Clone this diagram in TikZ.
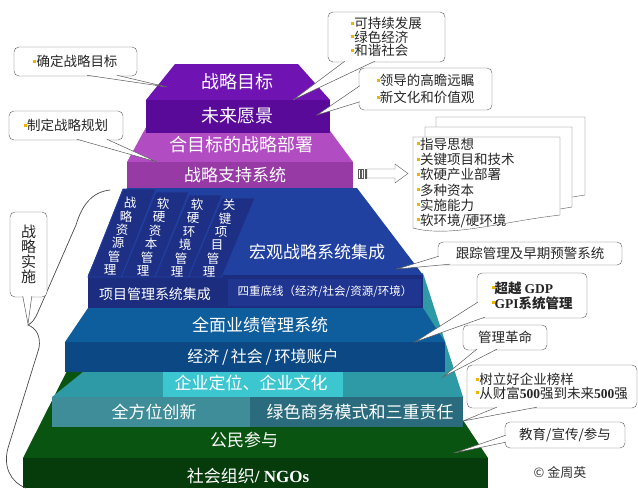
\documentclass[tikz,border=0pt]{standalone}
\usepackage{fontspec}
\setmainfont{Noto Sans CJK SC}
\newfontfamily\lat{Liberation Serif}
\usepackage{tikz}
\usetikzlibrary{calc}
\definecolor{purpletop}{HTML}{6F14B2}
\definecolor{purplefront}{HTML}{5A0A99}
\definecolor{orchidtop}{HTML}{B24CC2}
\definecolor{orchidfront}{HTML}{973AA6}
\definecolor{bluetop}{HTML}{2141A0}
\definecolor{bluefront}{HTML}{1C2D7F}
\definecolor{bluepanel}{HTML}{203590}
\definecolor{bluecol}{HTML}{1E2F86}
\definecolor{steeltop}{HTML}{0E5D9C}
\definecolor{steelfront}{HTML}{0B4884}
\definecolor{tealtop}{HTML}{2E9AA6}
\definecolor{tealhi}{HTML}{3CC6D0}
\definecolor{tealleft}{HTML}{3F8D99}
\definecolor{tealright}{HTML}{2A6B7E}
\definecolor{greentop}{HTML}{0A5412}
\definecolor{greenfront}{HTML}{063B0B}
\definecolor{bulcol}{HTML}{F2B200}
\definecolor{inkgray}{HTML}{5A5A5A}
\newcommand{\bul}{{\color{bulcol}\rule[0.3em]{3pt}{3pt}}}
\newcommand{\calltail}[3]{\fill[white] (#1) -- (#3) -- (#2) -- cycle; \draw[tailline] (#1) -- (#3) -- (#2);}
\tikzset{
  tierlbl/.style={text=white, inner sep=0pt, font=\fontsize{17}{17}\selectfont},
  colchar/.style={text=white, inner sep=0pt, font=\fontsize{12.5}{12.5}\selectfont},
  callbox/.style={draw=inkgray, fill=white, rounded corners=5pt, inner sep=2pt, align=left, text=black!85, font=\fontsize{13.5}{15}\selectfont},
  tailline/.style={draw=inkgray, line width=0.5pt},
}
\begin{document}
\begin{tikzpicture}[x=1pt,y=-1pt]
\useasboundingbox (0,0) rectangle (638,488);
\fill[greentop] (75,355) -- (420,355) -- (488,458) -- (23,458) -- cycle;
\fill[greenfront] (23,458) rectangle (488,488);
\fill[tealtop] (52,397) -- (83,372) -- (120,300) -- (423,273) -- (463,397) -- cycle;
\fill[tealhi] (163,372) rectangle (343,397);
\fill[tealleft] (52,397) rectangle (250,427);
\fill[tealright] (250,397) rectangle (463,427);
\fill[steeltop] (88,308) -- (423,308) -- (445,342) -- (65,342) -- cycle;
\fill[steelfront] (65,342) rectangle (445,372);
\fill[bluetop] (127,188) -- (357,188) -- (423,275) -- (88,275) -- cycle;
\fill[bluefront] (88,275) rectangle (423,308);
\fill[bluepanel] (228,279) rectangle (421,306);
\filldraw[fill=bluecol, draw=bluetop, line width=0.8pt] (88,277) -- (121.5,277) -- (156,189) -- (123,189) -- cycle;
\filldraw[fill=bluecol, draw=bluetop, line width=0.8pt] (121.5,277) -- (155,277) -- (189,192) -- (156,192) -- cycle;
\filldraw[fill=bluecol, draw=bluetop, line width=0.8pt] (155,277) -- (188.5,277) -- (222,195) -- (189,195) -- cycle;
\filldraw[fill=bluecol, draw=bluetop, line width=0.8pt] (188.5,277) -- (222,277) -- (255,198) -- (222,198) -- cycle;
\fill[orchidtop] (150,120) -- (322,120) -- (353,162) -- (127,162) -- cycle;
\fill[orchidfront] (127,162) rectangle (353,188);
\fill[purpletop] (175,64) -- (298,64) -- (330,100) -- (146,100) -- cycle;
\fill[purplefront] (146,100) rectangle (330,133);

\node[tierlbl, font=\fontsize{18}{18}\selectfont] (goal) at (237,82) {战略目标};
\node[tierlbl, font=\fontsize{18}{18}\selectfont] (vision) at (237,116) {未来愿景};
\node[tierlbl, font=\fontsize{18}{18}\selectfont] (deploy) at (241,145) {合目标的战略部署};
\node[tierlbl] (support) at (235,175) {战略支持系统};
\foreach \cx/\cy/\clist [count=\n] in {130/203/{战,略,资,源,管,理}, 163/204/{软,硬,资,本,管,理}, 197/205/{软,硬,环,境,管,理}, 229/205/{关,键,项,目,管,理}}
  \foreach \ch [count=\k from 0] in \clist
    \node[colchar] (col\n-\k) at (\cx-4*\k, \cy+13.4*\k) {\ch};
\node[tierlbl] (macro) at (317,252) {宏观战略系统集成};
\node[tierlbl, font=\fontsize{14}{14}\selectfont] (pmsys) at (155,294) {项目管理系统集成};
\node[tierlbl, font=\fontsize{11.5}{12}\selectfont] (quad) at (325,292) {四重底线（经济/社会/资源/环境）};
\node[tierlbl] (perf) at (260,325) {全面业绩管理系统};
\node[tierlbl, font=\fontsize{16}{16}\selectfont] (acct) at (263,357) {经济\,/\,社会\,/\,环境账户};
\node[tierlbl] (culture) at (251,383) {企业定位、企业文化};
\node[tierlbl] (innov) at (154,412) {全方位创新};
\node[tierlbl] (green) at (360,412) {绿色商务模式和三重责任};
\node[tierlbl] (citizen) at (244,440) {公民参与};
\node[tierlbl] (ngo) at (248,476) {社会组织{\lat\bfseries / NGOs}};

\draw[inkgray!80!black, line width=0.7pt] (110,190) .. controls (92,192) and (82,205) .. (76,225) -- (38,312) .. controls (35,319) and (32,323) .. (28,325) .. controls (36,328) and (41,336) .. (39,348) -- (8,448) .. controls (3,466) and (10,482) .. (26,488);

\coordinate (goaltip) at (167,87);
\coordinate (plantip) at (157,162);
\coordinate (sustaintip) at (293,100);
\coordinate (leadtip) at (317,115);
\coordinate (tracktip) at (397,269);
\coordinate (gdptip) at (415,342);
\coordinate (reformtip) at (443,377);
\coordinate (modeltip) at (463,421);
\coordinate (edutip) at (454,453);
\coordinate (impltip) at (28,324);

\node[callbox, minimum width=123pt, minimum height=29pt] (goalbox) at (75.5,61.5) {\bul{}确定战略目标};
\calltail{$(goalbox.south west)+(73,-1)$}{$(goalbox.south west)+(103,-1)$}{goaltip}
\node[callbox, minimum width=114pt, minimum height=29pt] (planbox) at (66,125.5) {\bul{}制定战略规划};
\calltail{$(planbox.south west)+(68,-1)$}{$(planbox.south west)+(98,-1)$}{plantip}
\node[callbox, minimum width=117pt, minimum height=50pt, font=\fontsize{13.5}{13.5}\selectfont] (sustainbox) at (386.5,37) {\bul{}可持续发展\\\bul{}绿色经济\\\bul{}和谐社会};
\calltail{$(sustainbox.south west)+(17,-1)$}{$(sustainbox.south west)+(47,-1)$}{sustaintip}
\node[callbox, minimum width=133pt, minimum height=42pt, font=\fontsize{13.5}{17}\selectfont] (leadbox) at (425.5,89) {\bul{}领导的高瞻远瞩\\\bul{}新文化和价值观};
\calltail{$(leadbox.north west)+(1,18)$}{$(leadbox.north west)+(1,34)$}{leadtip}
\node[callbox, minimum width=184pt, minimum height=23pt] (trackbox) at (530,253.5) {跟踪管理及早期预警系统};
\calltail{$(trackbox.south west)+(1,-9)$}{$(trackbox.south west)+(12,-1)$}{tracktip}
\node[callbox, minimum width=110pt, minimum height=45pt, font=\fontsize{13.5}{15}\selectfont\bfseries] (gdpbox) at (532,295.5) {\bul{}超越 {\lat GDP}\\\bul{}{\lat GPI}系统管理};
\calltail{$(gdpbox.south west)+(1,-16)$}{$(gdpbox.south west)+(8,-1)$}{gdptip}
\node[callbox, minimum width=84pt, minimum height=25pt] (reformbox) at (505,337.5) {管理革命};
\calltail{$(reformbox.south west)+(14,-1)$}{$(reformbox.south west)+(34,-1)$}{reformtip}
\node[callbox, minimum width=170pt, minimum height=43pt, font=\fontsize{13.5}{13.5}\selectfont] (modelbox) at (552,386.5) {\bul{}树立好企业榜样\\\bul{}从财富{\lat\bfseries 500}强到未来{\lat\bfseries 500}强};
\calltail{$(modelbox.south west)+(30,-1)$}{$(modelbox.south west)+(70,-1)$}{modeltip}
\node[callbox, minimum width=120pt, minimum height=26pt] (edubox) at (565,435) {教育/宣传/参与};
\calltail{$(edubox.south west)+(1,-13)$}{$(edubox.south west)+(1,-6)$}{edutip}
\node[callbox, minimum width=37pt, minimum height=85pt, align=center, font=\fontsize{15}{15}\selectfont] (implbox) at (28.5,254.5) {战\\略\\实\\施};
\calltail{$(implbox.south west)+(13,-1)$}{$(implbox.south west)+(22,-1)$}{impltip}

\filldraw[fill=white, draw=inkgray] (436,117) -- (585,117) -- (585,195) .. controls (540,202) and (480,214) .. (436,205) -- cycle;
\filldraw[fill=white, draw=inkgray] (425,127) -- (572,127) -- (572,207) .. controls (530,214) and (470,226) .. (425,217) -- cycle;
\filldraw[fill=white, draw=inkgray] (413,137) -- (560,137) -- (560,215) .. controls (500,222) and (450,238) .. (413,228) -- cycle;
\node[anchor=north west, inner sep=0pt, align=left, text=black!85, font=\fontsize{13.5}{15.2}\selectfont] (supportlist) at (417,138) {\bul{}指导思想\\\bul{}关键项目和技术\\\bul{}软硬产业部署\\\bul{}多种资本\\\bul{}实施能力\\\bul{}软环境/硬环境};

\filldraw[fill=white, draw=inkgray] (367,169) -- (395,169) -- (395,164) -- (408,173.5) -- (395,183) -- (395,178) -- (367,178) -- cycle;
\filldraw[fill=white, draw=inkgray] (358,169) rectangle (360,178);
\filldraw[fill=white, draw=inkgray] (361.5,169) rectangle (363.5,178);
\filldraw[fill=white, draw=inkgray] (365,169) rectangle (366,178);

\node[text=black!80, font=\fontsize{13}{13}\selectfont] (author) at (560,473) {© 金周英};
\end{tikzpicture}
\end{document}
